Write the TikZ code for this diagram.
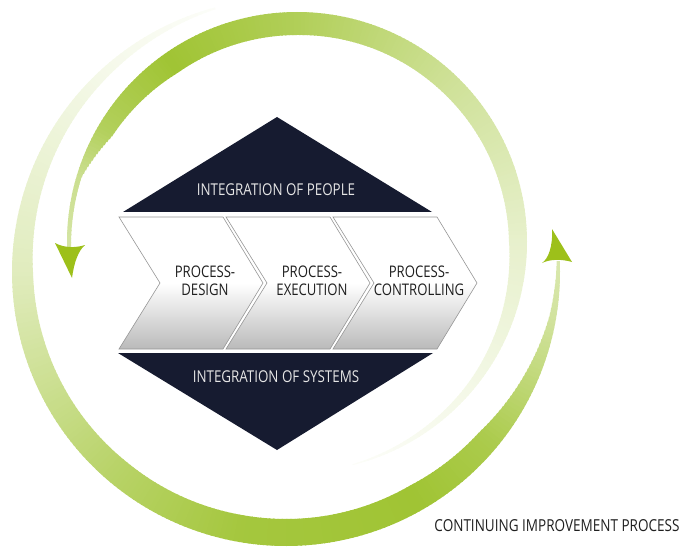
\documentclass[tikz,border=0pt]{standalone}
\usepackage{fontspec}
\usepackage{tikz}
\newfontfamily\diagfont{Open Sans}[FakeStretch=0.82]
\definecolor{ringgreen}{RGB}{160,196,52}
\definecolor{tipgreen}{RGB}{157,192,26}
\definecolor{deepnavy}{RGB}{22,27,48}
\definecolor{chevrongray}{RGB}{186,186,186}
\definecolor{chevronline}{RGB}{150,150,150}
\tikzset{
    band-label/.style = {font=\diagfont\fontsize{16.3}{19}\selectfont, text=white!90!black},
    step-label/.style = {font=\diagfont\fontsize{16}{18}\selectfont, text=black!88, align=center},
    note-label/.style = {font=\diagfont\fontsize{16.5}{19}\selectfont, text=black!88},
    chevron-shape/.style = {draw=chevronline, line width=0.6pt, top color=white, bottom color=chevrongray, middle color=white},
}

\begin{document}
\begin{tikzpicture}[x=1pt, y=1pt]
\useasboundingbox (0,0) rectangle (682,547);

\begin{scope}[shift={(297,305)}]
\foreach \ta/\tb/\wa/\wb/\ca/\cb in {-76/-40/1/8/3/12, -40/0/8/18/12/25, 0/45/18/21/25/50, 45/90/21/23/50/82, 90/125/23/23/82/100, 125/150/23/17/100/80, 150/163/17/5/80/55, 163/181/5/4/55/45}{
    \pgfmathtruncatemacro\n{\tb-\ta}
    \foreach \i in {1,...,\n}{
        \pgfmathsetmacro\t{\ta+(\i-1)*(\tb-\ta)/\n}
        \pgfmathsetmacro\e{\t+1.3*(\tb-\ta)/\n}
        \pgfmathsetmacro\w{\wa+(\i-0.5)*(\wb-\wa)/\n}
        \pgfmathsetmacro\c{\ca+(\i-0.5)*(\cb-\ca)/\n}
        \pgfmathsetmacro\r{230-\w}
        \fill[ringgreen!\c!white] (\t:230) arc[start angle=\t, end angle=\e, radius=230] -- (\e:\r) arc[start angle=\e, end angle=\t, radius=\r] -- cycle;
    }
}
\end{scope}

\begin{scope}[shift={(286,275)}]
\foreach \ta/\tb/\wa/\wb/\ca/\cb in {105/130/2/9/3/10, 130/180/9/21/10/32, 180/230/21/26/32/75, 230/260/26/27/75/95, 260/300/27/27/95/100, 300/320/27/23/100/88, 320/335/23/15/88/68, 335/350/15/7/68/48, 350/362/7/3/48/40}{
    \pgfmathtruncatemacro\n{\tb-\ta}
    \foreach \i in {1,...,\n}{
        \pgfmathsetmacro\t{\ta+(\i-1)*(\tb-\ta)/\n}
        \pgfmathsetmacro\e{\t+1.3*(\tb-\ta)/\n}
        \pgfmathsetmacro\w{\wa+(\i-0.5)*(\wb-\wa)/\n}
        \pgfmathsetmacro\c{\ca+(\i-0.5)*(\cb-\ca)/\n}
        \pgfmathsetmacro\r{274-\w}
        \fill[ringgreen!\c!white] (\t:274) arc[start angle=\t, end angle=\e, radius=274] -- (\e:\r) arc[start angle=\e, end angle=\t, radius=\r] -- cycle;
    }
}
\end{scope}

\fill[tipgreen] (55,304) .. controls (64,299) and (76,299) .. (85,302) .. controls (78,296) and (74,284) .. (72,269) -- cycle;
\fill[tipgreen] (552,318) -- (572,285) .. controls (562,288) and (550,288) .. (542,284) .. controls (548,288) and (553,300) .. cycle;

\fill[deepnavy] (123,335) -- (432,335) -- (277,430) -- cycle;
\fill[deepnavy] (118,194) -- (433,194) -- (277,97) -- cycle;
\node[band-label] (people) at (276,357) {INTEGRATION OF PEOPLE};
\node[band-label] (systems) at (276,170) {INTEGRATION OF SYSTEMS};

\foreach \x/\name/\txt in {119/design/{PROCESS-\\DESIGN}, 226/execution/{PROCESS-\\EXECUTION}, 333/controlling/{PROCESS-\\CONTROLLING}}{
    \path[chevron-shape] (\x,330) -- ++(104,0) -- ++(40,-66) -- ++(-40,-66) -- ++(-104,0) -- ++(41,66) -- cycle;
    \node[step-label] (\name) at (\x+86,266) {\txt};
}

\node[note-label] (improvement) at (557,21) {CONTINUING IMPROVEMENT PROCESS};
\end{tikzpicture}
\end{document}
